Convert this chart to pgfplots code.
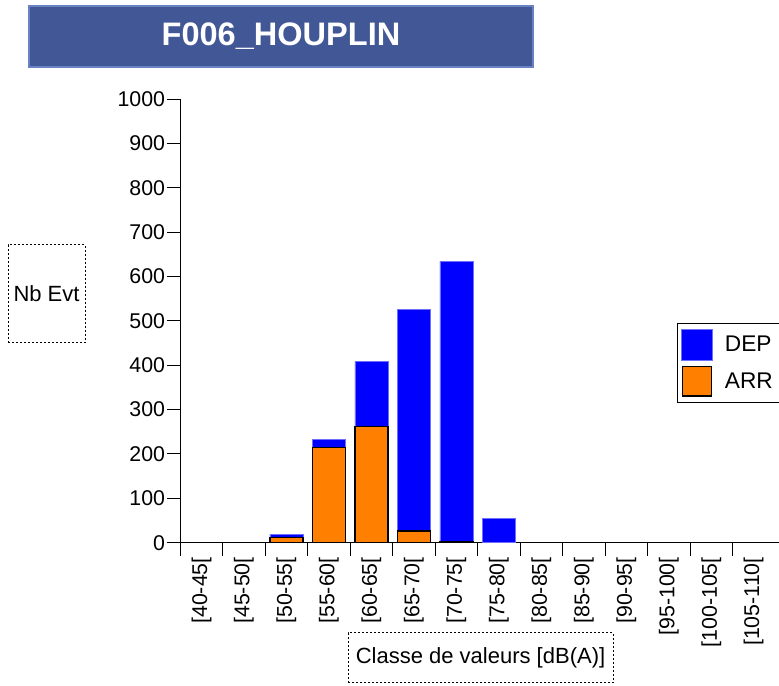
\documentclass[border=0pt]{standalone}
\usepackage{fontspec}
\setmainfont{Liberation Sans}
\usepackage{pgfplots}
\usepackage{pgfplotstable}
\pgfplotsset{compat=1.18}
\definecolor{depblue}{RGB}{0,0,255}
\definecolor{depedge}{RGB}{110,110,255}
\definecolor{arrorange}{RGB}{255,128,0}
\definecolor{titlefill}{RGB}{66,87,150}
\definecolor{titleedge}{RGB}{105,130,195}

\pgfplotstableread{
x arr dep
2 11 8
3 215 17
4 262 146
5 26 500
6 2 633
7 0 55
}\data

\begin{document}
\begin{tikzpicture}
\useasboundingbox (0pt,0pt) rectangle (584.25pt,514.5pt);
% title
\filldraw[fill=titlefill, draw=titleedge, line width=1.5pt] (21.5pt,464pt) rectangle (400pt,510.25pt);
\node[text=white, font=\bfseries\fontsize{24.4}{28}\selectfont] at (210.75pt,487.1pt) {F006\_HOUPLIN};
% y label box
\draw[dash pattern=on 1.5pt off 1.5pt, line width=0.75pt] (6pt,257.25pt) rectangle (63.75pt,330.75pt);
\node[font=\fontsize{16.5}{19}\selectfont] at (34.9pt,294pt) {Nb Evt};
% x label box
\draw[dash pattern=on 1.5pt off 1.5pt, line width=0.75pt] (261pt,2.25pt) rectangle (459.75pt,39.75pt);
\node[font=\fontsize{16.5}{19}\selectfont] at (360.4pt,21pt) {Classe de valeurs [dB(A)]};
\begin{axis}[
  at={(135.2pt,107.5pt)}, anchor=south west,
  scale only axis, width=449.2pt, height=332.55pt,
  xmin=-0.5, xmax=13.6, ymin=0, ymax=1000,
  ytick={0,100,...,1000},
  xtick={0,...,13},
  xticklabels={{[40-45[},{[45-50[},{[50-55[},{[55-60[},{[60-65[},{[65-70[},{[70-75[},{[75-80[},{[80-85[},{[85-90[},{[90-95[},{[95-100[},{[100-105[},{[105-110[}},
  minor xtick={-0.5,0.5,...,12.5},
  axis x line*=bottom, axis y line*=left,
  tick align=outside,
  major tick length=9.75pt, minor tick length=9.75pt,
  tick style={black, line width=0.75pt},
  major x tick style={draw=none},
  axis line style={line width=0.75pt},
  ybar stacked, bar width=24.75pt,
  xticklabel style={rotate=90, anchor=east, inner sep=1pt, font=\fontsize{16}{19}\selectfont},
  yticklabel style={inner sep=1.5pt, font=\fontsize{16}{19}\selectfont},
  /pgf/number format/assume math mode=true,
  /pgf/number format/1000 sep={},
  reverse legend,
  legend style={at={(0.829,0.4955)}, anchor=north west, draw=black, line width=0.75pt,
    font=\fontsize{17}{20}\selectfont, inner xsep=3pt, inner ysep=4.5pt, row sep=4pt},
  legend cell align=left,
]
\addplot[fill=arrorange, draw=black, line width=1pt,
  legend image code/.code={\filldraw[fill=arrorange, draw=black, line width=1pt] (0.5pt,-11pt) rectangle (22.5pt,11pt); \path (30pt,0pt);}]
  table[x=x, y=arr] {\data};
\addlegendentry{ARR}
\addplot[fill=depblue, draw=depedge, line width=0.5pt,
  legend image code/.code={\filldraw[fill=depblue, draw=depedge, line width=0.5pt] (0pt,-11.5pt) rectangle (23pt,11.5pt); \path (30pt,0pt);}]
  table[x=x, y=dep] {\data};
\addlegendentry{DEP}
\end{axis}
\end{tikzpicture}
\end{document}
